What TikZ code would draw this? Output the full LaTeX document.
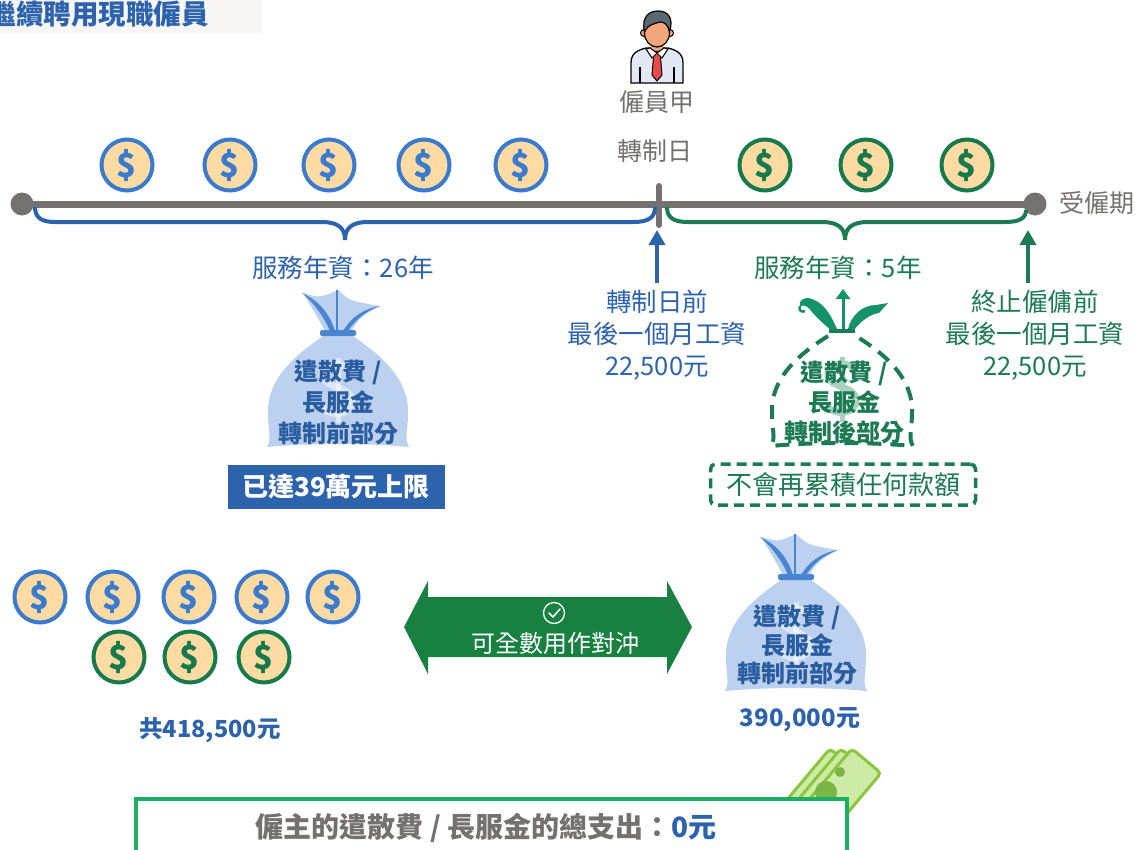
\documentclass[tikz,border=0pt]{standalone}
\usepackage{fontspec}
\setmainfont{Noto Sans CJK TC}
\usetikzlibrary{arrows.meta}

\definecolor{tblue}{HTML}{2D62AC}
\definecolor{bagtext}{HTML}{2A5DA0}
\definecolor{tgreen}{HTML}{1C7A55}
\definecolor{tgray}{HTML}{767171}
\definecolor{cblue}{HTML}{3A7BD0}
\definecolor{cgreen}{HTML}{177A4C}
\definecolor{coinfill}{HTML}{FDDBA3}
\definecolor{bagfill}{HTML}{BBD1EF}
\definecolor{bagdark}{HTML}{4A86D0}
\definecolor{arrowgreen}{HTML}{188040}
\definecolor{boxgreen}{HTML}{1DAE66}
\definecolor{billfill}{HTML}{CDEBA5}
\definecolor{billline}{HTML}{8CC63F}
\definecolor{billdark}{HTML}{7BB547}
\definecolor{leafgreen}{HTML}{14926A}
\definecolor{dollargreen}{HTML}{A9D3C0}
\definecolor{titlebg}{HTML}{F7F6F5}
\definecolor{hair}{HTML}{5E6670}
\definecolor{skin}{HTML}{F2A679}
\definecolor{shirt}{HTML}{E3E9F4}
\definecolor{tie}{HTML}{E84B4B}

\newcommand\fsz[2]{\fontsize{#1}{#2}\selectfont}

\tikzset{
  txt/.style={inner sep=0pt, align=center},
  coin/.style={circle, minimum size=51pt, inner sep=0pt, fill=coinfill,
    draw=#1, line width=4pt, text=#1, font=\fsz{33}{36}\bfseries},
  enddot/.style={circle, fill=tgray, minimum size=23pt, inner sep=0pt},
  bluebrace/.style={draw=tblue, line width=4pt},
  greenbrace/.style={draw=tgreen, line width=4pt},
  uparrow/.style={line width=4pt, -{Triangle[width=16pt,length=15pt]}},
  dollarmark/.style={line width=#1, line cap=butt},
  pics/sackdollar/.style={code={
    \draw[dollarmark=7pt] (13,36) .. controls (4,29) and (-16,31) .. (-14,44)
      .. controls (-12,56) and (14,54) .. (14,68) .. controls (14,82) and (-6,84) .. (-15,75);
    \draw[dollarmark=5pt] (0,25) -- (0,90);
  }},
  pics/moneybag/.style={code={
    % sack body
    \fill[bagfill] (-15,3) .. controls (-36,18) and (-71,42) .. (-70,80)
      .. controls (-70,98) and (-66,106) .. (-71,114)
      .. controls (-30,110) and (30,110) .. (71,114)
      .. controls (66,106) and (70,98) .. (70,80)
      .. controls (71,42) and (36,18) .. (15,3) -- cycle;
    \pic[white, opacity=0.5] {sackdollar};
    % gathered top
    \fill[bagfill] (-12,0) .. controls (-20,-15) .. (-35,-40)
      .. controls (-18,-35) .. (0,-43) .. controls (12,-32) .. (42,-27)
      .. controls (22,-16) .. (12,0) -- cycle;
    \fill[bagdark] (-36,-40) .. controls (-24,-30) and (-14,-16) .. (-8,-2) -- (-3,-2)
      .. controls (-8,-18) and (-18,-32) .. (-36,-40) -- cycle;
    \draw[bagdark, line width=2.5pt] (-1,-43) -- (-1,-2);
    \fill[bagdark] (42,-27) .. controls (24,-24) and (12,-14) .. (5,-2) -- (10,-2)
      .. controls (18,-14) and (28,-22) .. (42,-27) -- cycle;
    \fill[bagdark, rounded corners=2pt] (-18,-3) rectangle (18,3);
  }}
}

\begin{document}
\begin{tikzpicture}[x=1pt,y=-1pt]
\useasboundingbox (0,0) rectangle (1138,849);
\clip (0,0) rectangle (1138,849);

% heading (runs off the left edge of the page)
\fill[titlebg] (0,0) rectangle (262,33);
\node[txt, anchor=east, text=tblue, font=\fsz{27.5}{30}\bfseries] (title) at (209,14) {繼續聘用現職僱員};

% employee figure
\begin{scope}
  \draw[black, line width=1.3pt, fill=shirt] (631,83) -- (631,63) .. controls (631,53) and (638,50) .. (646,48)
    -- (668,48) .. controls (676,50) and (683,53) .. (683,63) -- (683,83) -- cycle;
  \draw[black, line width=1.2pt] (640,67) -- (640,83) (674,67) -- (674,83);
  \fill[skin] (651,40) rectangle (663,50);
  \draw[black, line width=1pt, fill=tie] (654,51) -- (660,51) -- (662,75) -- (657,81) -- (652,75) -- cycle;
  \draw[black, line width=1pt, fill=white] (650,48) -- (657,53) -- (652,58) -- (646,49) -- cycle;
  \draw[black, line width=1pt, fill=white] (664,48) -- (657,53) -- (662,58) -- (668,49) -- cycle;
  \draw[black, line width=1pt, fill=skin] (644,33) circle (3.5pt) (670,33) circle (3.5pt);
  \draw[black, line width=1.2pt, fill=skin] (657,33) ellipse (12.5pt and 14pt);
  \draw[black, line width=1.2pt, fill=hair] (644.5,32) .. controls (641,16) and (650,11) .. (658,11)
    .. controls (668,11) and (674,18) .. (669.5,32) .. controls (668,24) and (664,22) .. (660,22)
    .. controls (654,24) and (648,24) .. (644.5,32) -- cycle;
\end{scope}
\node[txt, text=tgray, font=\fsz{25}{28}] (emp) at (657,102) {僱員甲};
\node[txt, text=tgray, font=\fsz{25}{28}] (conv) at (655,151) {轉制日};

% timeline
\node[enddot] (start) at (22,204) {};
\node[enddot] (end) at (1035,204) {};
\draw[tgray, line width=7pt] (start.center) -- (end.center);
\coordinate (ticktop) at (659,186);
\coordinate (tickbot) at (659,225);
\draw[tgray, line width=6pt, line cap=round] (ticktop) -- (tickbot);
\node[txt, anchor=west, text=tgray, font=\fsz{25}{28}] (period) at (1059,203) {受僱期};

% coins above the timeline
\foreach \x [count=\i] in {127,230,329,424,521}
  \node[coin=cblue] (tb\i) at (\x,165) {\$};
\foreach \x [count=\i] in {765,866,967}
  \node[coin=cgreen] (tg\i) at (\x,165) {\$};

% braces under the timeline
\draw[bluebrace] (35,207) .. controls (35,218) and (42,222) .. (55,222) -- (322,222)
  .. controls (338,222) and (345,228) .. (345,240) .. controls (345,228) and (352,222) .. (368,222)
  -- (633,222) .. controls (648,222) and (655,218) .. (655,207);
\draw[greenbrace] (667,207) .. controls (667,218) and (674,222) .. (688,222) -- (822,222)
  .. controls (838,222) and (845,228) .. (845,240) .. controls (845,228) and (852,222) .. (868,222)
  -- (1005,222) .. controls (1020,222) and (1026,218) .. (1026,210);

\node[txt, text=tblue, font=\fsz{25.5}{28}] (yrsA) at (343,268) {服務年資：26年};
\node[txt, text=tgreen, font=\fsz{25.5}{28}] (yrsB) at (838,268) {服務年資：5年};

% wage labels and arrows
\node[txt, text=tblue, font=\fsz{25.5}{32}] (wageA) at (657,335) {轉制日前\\最後一個月工資\\22,500元};
\node[txt, text=tgreen, font=\fsz{25.5}{32}] (wageB) at (1035,335) {終止僱傭前\\最後一個月工資\\22,500元};
\coordinate (tipA) at (657,230);
\coordinate (tipB) at (1028,230);
\draw[uparrow, tblue] (657,283) -- (tipA);
\draw[uparrow, tgreen] (1028,283) -- (tipB);

% sack of the part before conversion
\pic at (338,333) {moneybag};
\node[txt, text=bagtext, font=\fsz{24}{31}\bfseries] (bagA) at (338,402) {遣散費 /\\長服金\\轉制前部分};
\node[fill=tblue, minimum width=217pt, minimum height=44pt, inner sep=0pt,
  text=white, font=\fsz{26}{28}\bfseries] (cap) at (336,487) {已達39萬元上限};

% dashed sack of the part after conversion
\begin{scope}[shift={(842,332)}]
  \pic[dollargreen] {sackdollar};
  \draw[tgreen, line width=4pt, dash pattern=on 14pt off 9pt]
    (-14,4) .. controls (-36,18) and (-71,42) .. (-70,80)
      .. controls (-70,98) and (-66,106) .. (-71,114)
      .. controls (-30,110) and (30,110) .. (71,114)
      .. controls (66,106) and (70,98) .. (70,80)
      .. controls (71,42) and (36,18) .. (14,4);
  \draw[tgreen, line width=3.5pt] (-13,-1) -- (13,-1);
  % sprouting leaves
  \fill[leafgreen] (-5,-3) .. controls (-10,-14) and (-16,-28) .. (-30,-33)
    .. controls (-38,-36) and (-44,-31) .. (-42,-26) .. controls (-36,-28) and (-33,-24) .. (-30,-20)
    .. controls (-24,-13) and (-16,-6) .. (-11,-2) -- cycle;
  \draw[leafgreen, line width=2.5pt] (-42,-26) .. controls (-44,-22) and (-40,-19) .. (-37,-21);
  \draw[leafgreen, line width=3pt, -{Triangle[width=14pt,length=10pt]}] (1,-3) -- (1,-43);
  \fill[leafgreen] (6,-3) .. controls (9,-16) and (20,-27) .. (34,-27) -- (46,-29) -- (37,-19)
    .. controls (28,-18) and (18,-10) .. (12,-2) -- cycle;
\end{scope}
\node[txt, text=tgreen, font=\fsz{24}{30}\bfseries] (bagB) at (844,402) {遣散費 /\\長服金\\轉制後部分};
\node[draw=tgreen, line width=3.5pt, dash pattern=on 10pt off 6pt, rounded corners=5pt,
  minimum width=265pt, minimum height=41pt, inner sep=0pt, text=tgreen,
  font=\fsz{26}{28}] (noacc) at (843,484.5) {不會再累積任何款額};

% coins paid so far
\foreach \x [count=\i] in {40,113,189,262,333}
  \node[coin=cblue] (sb\i) at (\x,597) {\$};
\foreach \x [count=\i] in {119,190,264}
  \node[coin=cgreen] (sg\i) at (\x,657) {\$};
\node[txt, text=tblue, font=\fsz{23.5}{28}\bfseries] (sum) at (210,730) {共418,500元};

% offset arrow
\fill[arrowgreen] (404,627) -- (428,581) -- (428,597) -- (667,597) -- (667,581) -- (692,627)
  -- (667,674) -- (667,657) -- (428,657) -- (428,674) -- cycle;
\node[circle, draw=white, line width=1.3pt, minimum size=21pt, inner sep=0pt] (check) at (554,613) {};
\draw[white, line width=1.5pt, line cap=round, line join=round] (549,613) -- (553,617) -- (560,609);
\node[txt, text=white, font=\fsz{24}{28}] (offset) at (555,643) {可全數用作對沖};

% sack held by the employer
\pic at (796,577) {moneybag};
\node[txt, text=bagtext, font=\fsz{24}{28.5}\bfseries] (bagC) at (797,645) {遣散費 /\\長服金\\轉制前部分};
\node[txt, text=tblue, font=\fsz{24}{28}\bfseries] (held) at (800,720) {390,000元};

% banknotes behind the result box
\foreach \dx in {-22,-11,0} {
  \begin{scope}[shift={(842+\dx,790)}, rotate=50]
    \draw[billline, fill=billfill, line width=3pt, rounded corners=4pt] (-38,-19) rectangle (38,19);
  \end{scope}
}
\fill[billdark] (826,792) circle (11pt);
\fill[billdark] (840,772) circle (5pt);

% result
\node[draw=boxgreen, fill=white, line width=4pt, minimum width=711pt, minimum height=70pt,
  inner sep=0pt, anchor=north west] (resultbox) at (134,797) {};
\node[txt, font=\fsz{28}{30}\bfseries] (result) at (486,828)
  {\textcolor{tgray}{僱主的遣散費 / 長服金的總支出：}\textcolor{tblue}{0元}};
\end{tikzpicture}
\end{document}
